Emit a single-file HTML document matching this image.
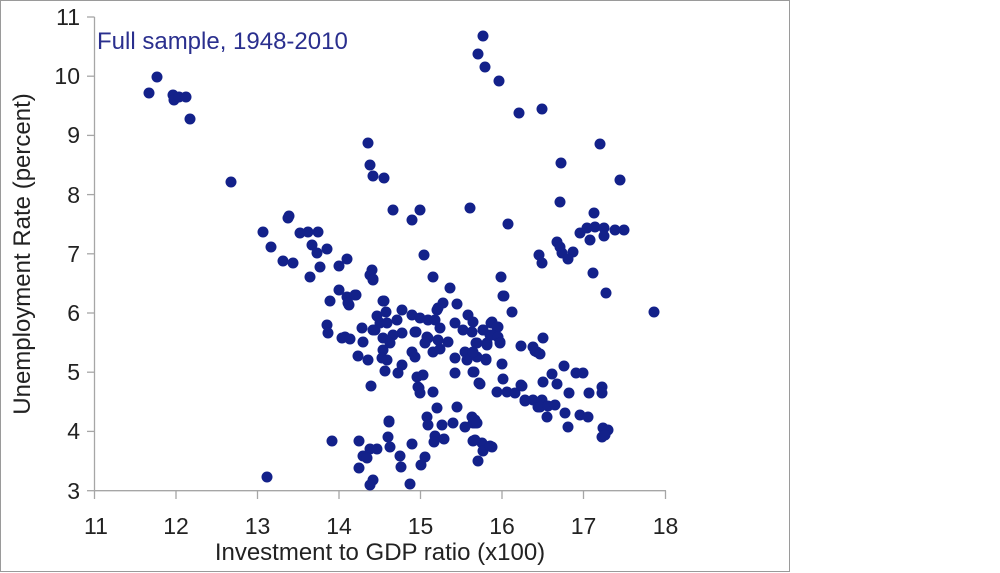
<!DOCTYPE html>
<html><head><meta charset="utf-8"><style>
html,body{margin:0;padding:0;background:#fff;width:1000px;height:573px;overflow:hidden}
svg text{font-family:"Liberation Sans",sans-serif}
</style></head><body>
<svg width="1000" height="573" viewBox="0 0 1000 573" xmlns="http://www.w3.org/2000/svg">
<rect x="0.5" y="0.5" width="789" height="571" fill="#fff" stroke="#9a9a9a" stroke-width="1"/>
<g stroke="#a6a6a6" stroke-width="1.3" fill="none">
<line x1="94.5" y1="17" x2="94.5" y2="491"/>
<line x1="94.5" y1="490.7" x2="666" y2="490.7"/>
<line x1="87" y1="17" x2="94.5" y2="17"/><line x1="87" y1="76.2" x2="94.5" y2="76.2"/><line x1="87" y1="135.4" x2="94.5" y2="135.4"/><line x1="87" y1="194.6" x2="94.5" y2="194.6"/><line x1="87" y1="253.8" x2="94.5" y2="253.8"/><line x1="87" y1="313" x2="94.5" y2="313"/><line x1="87" y1="372.2" x2="94.5" y2="372.2"/><line x1="87" y1="431.4" x2="94.5" y2="431.4"/><line x1="87" y1="490.7" x2="94.5" y2="490.7"/>
<line x1="94.5" y1="490.7" x2="94.5" y2="499"/><line x1="176" y1="490.7" x2="176" y2="499"/><line x1="257.5" y1="490.7" x2="257.5" y2="499"/><line x1="339" y1="490.7" x2="339" y2="499"/><line x1="420.5" y1="490.7" x2="420.5" y2="499"/><line x1="502" y1="490.7" x2="502" y2="499"/><line x1="583.5" y1="490.7" x2="583.5" y2="499"/><line x1="665.5" y1="490.7" x2="665.5" y2="499"/>
</g>
<g font-size="23" fill="#222" text-anchor="end">
<text x="80" y="25">11</text><text x="80" y="84">10</text><text x="80" y="143">9</text><text x="80" y="203">8</text><text x="80" y="262">7</text><text x="80" y="321">6</text><text x="80" y="380">5</text><text x="80" y="439">4</text><text x="80" y="499">3</text>
</g>
<g font-size="23" fill="#222" text-anchor="middle">
<text x="96" y="534">11</text><text x="176" y="534">12</text><text x="257.5" y="534">13</text><text x="339" y="534">14</text><text x="420.5" y="534">15</text><text x="502" y="534">16</text><text x="583.5" y="534">17</text><text x="665.5" y="534">18</text>
</g>
<text x="380" y="560" font-size="24" fill="#222" text-anchor="middle">Investment to GDP ratio (x100)</text>
<text transform="translate(30,254) rotate(-90)" font-size="24" fill="#222" text-anchor="middle">Unemployment Rate (percent)</text>
<text x="97" y="49" font-size="24" fill="#2a2f8e">Full sample, 1948-2010</text>
<g fill="#13218a" id="d"></g>
</svg>
<script>
var p=[[149,93],[157,77],[173,95],[174,100],[179,97],[186,97],[190,119],[231,182],
[263,232],[289,216],[288,218],[300,233],[308,232],[318,232],[271,247],[312,245],[317,253],[327,249],[283,261],[293,263],[320,267],[310,277],[339,266],[347,259],[372,270],[370,275],[373,279],[393,210],[420,210],[412,220],[424,255],[433,277],[339,290],[330,301],[347,297],[356,295],[349,305],[384,301],[377,316],[386,312],[402,310],[412,315],[420,318],[428,320],[435,320],[327,325],[328,333],[345,337],[362,328],[375,330],[380,323],[387,323],[397,320],[402,333],[415,332],[427,337],[437,310],
[373,280],[450,288],[503,296],[355,295],[348,303],[383,301],[438,308],[443,303],[457,304],[512,312],[455,323],[468,315],[473,322],[492,322],[498,327],[373,330],[342,338],[350,339],[363,342],[383,338],[393,335],[416,332],[440,328],[463,330],[472,332],[483,330],[490,335],[500,342],[428,338],[425,343],[438,340],[448,342],[476,343],[487,343],[390,343],[383,350],[412,352],[415,357],[433,352],[440,349],[455,358],[465,352],[467,360],[477,357],[486,359],[521,346],[533,347],[537,352],[358,356],[368,360],[382,358],[387,360],[402,365],[398,373],[385,371],[417,377],[423,375],[418,387],[420,393],[433,392],[455,373],[473,372],[502,364],[503,379],[480,384],[497,392],[507,392],[515,393],[522,386],[525,400],[533,400],[538,407],[371,386],[389,422],[437,408],[457,407],[427,417],[428,425],[442,425],[453,423],[472,417],[473,423],[465,427],
[419,388],[389,421],[475,423],[332,441],[359,441],[388,437],[390,447],[412,444],[435,436],[444,439],[434,442],[473,441],[482,443],[492,447],[483,451],[370,449],[377,449],[363,456],[367,458],[400,456],[401,467],[425,457],[421,465],[478,461],[359,468],[373,480],[370,485],[410,484],[267,477],
[491,323],[497,327],[483,330],[492,335],[498,337],[500,343],[487,345],[477,343],[473,352],[543,338],[535,351],[540,354],[486,360],[474,372],[479,383],[564,366],[552,374],[576,373],[583,373],[543,382],[557,384],[521,385],[525,401],[542,400],[540,407],[548,406],[555,405],[547,417],[569,393],[589,393],[602,387],[602,393],[565,413],[580,415],[588,417],[568,427],[603,428],[608,430],[602,437],[605,435],[475,420],[477,423],[475,440],[490,446],
[600,144],[561,163],[620,180],[560,202],[594,213],[508,224],[580,233],[587,228],[595,227],[604,228],[615,230],[624,230],[590,240],[604,236],[557,242],[560,247],[562,253],[573,252],[568,259],[539,255],[542,263],[593,273],[501,277],[504,296],[606,293],[654,312],
[483,36],[478,54],[485,67],[499,81],[519,113],[542,109],[368,143],[370,165],[373,176],[384,178],[470,208]];
var g=document.getElementById('d'),s='';
p.forEach(function(q){s+='<circle cx="'+q[0]+'" cy="'+q[1]+'" r="5.5"/>';});
g.innerHTML=s;
</script>
</body></html>
